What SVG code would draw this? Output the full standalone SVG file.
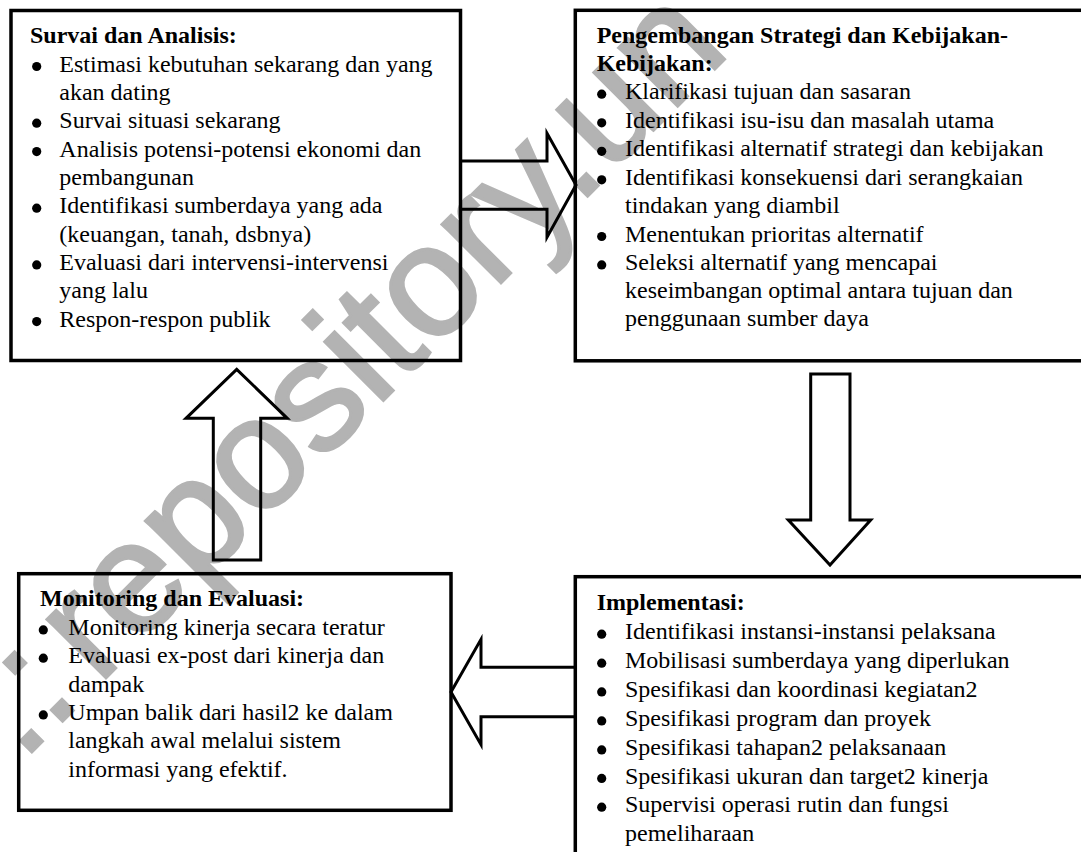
<svg xmlns="http://www.w3.org/2000/svg" width="1081" height="852" viewBox="0 0 1081 852">
<style>
.box{fill:none;stroke:#000;stroke-width:3.5}
.t{font-family:"Liberation Serif","Times New Roman",serif;font-size:24px;fill:#000}
.h{font-weight:bold}
.b{fill:#000}
.arr{fill:none;stroke:#000;stroke-width:3;stroke-linejoin:miter}
.wm{font-family:"Liberation Sans",Arial,sans-serif;font-size:157px;fill:#b3b3b3;stroke:#b3b3b3;stroke-width:3;stroke-linejoin:miter}
</style>
<rect x="0" y="0" width="1081" height="852" fill="#fff"/>
<g id="watermark">
<text class="wm" transform="translate(21.7,762) rotate(-45)">::<tspan dx="21">repository.un</tspan></text>
</g>
<g id="survai">
<rect class="box" x="11" y="10.5" width="449.5" height="350"/>
<text class="t h" x="30" y="43.3">Survai dan Analisis:</text>
<circle class="b" cx="36.7" cy="66.5" r="4.6"/>
<text class="t" x="59.3" y="71.6">Estimasi kebutuhan sekarang dan yang</text>
<text class="t" x="59.3" y="100">akan dating</text>
<circle class="b" cx="36.7" cy="123.2" r="4.6"/>
<text class="t" x="59.3" y="128.3">Survai situasi sekarang</text>
<circle class="b" cx="36.7" cy="151.6" r="4.6"/>
<text class="t" x="59.3" y="156.7">Analisis potensi-potensi ekonomi dan</text>
<text class="t" x="59.3" y="185">pembangunan</text>
<circle class="b" cx="36.7" cy="208.2" r="4.6"/>
<text class="t" x="59.3" y="213.3">Identifikasi sumberdaya yang ada</text>
<text class="t" x="59.3" y="241.7">(keuangan, tanah, dsbnya)</text>
<circle class="b" cx="36.7" cy="264.9" r="4.6"/>
<text class="t" x="59.3" y="270">Evaluasi dari intervensi-intervensi</text>
<text class="t" x="59.3" y="298.3">yang lalu</text>
<circle class="b" cx="36.7" cy="321.6" r="4.6"/>
<text class="t" x="59.3" y="326.7">Respon-respon publik</text>
</g>
<g id="pengembangan">
<rect class="box" x="575.3" y="10.3" width="520" height="350.5"/>
<text class="t h" x="596.7" y="43.3">Pengembangan Strategi dan Kebijakan-</text>
<text class="t h" x="596.7" y="70.5">Kebijakan:</text>
<circle class="b" cx="601.7" cy="94.2" r="4.6"/>
<text class="t" x="625" y="99.3">Klarifikasi tujuan dan sasaran</text>
<circle class="b" cx="601.7" cy="122.8" r="4.6"/>
<text class="t" x="625" y="127.9">Identifikasi isu-isu dan masalah utama</text>
<circle class="b" cx="601.7" cy="151.3" r="4.6"/>
<text class="t" x="625" y="156.4">Identifikasi alternatif strategi dan kebijakan</text>
<circle class="b" cx="601.7" cy="179.8" r="4.6"/>
<text class="t" x="625" y="184.9">Identifikasi konsekuensi dari serangkaian</text>
<text class="t" x="625" y="213.3">tindakan yang diambil</text>
<circle class="b" cx="601.7" cy="236.5" r="4.6"/>
<text class="t" x="625" y="241.6">Menentukan prioritas alternatif</text>
<circle class="b" cx="601.7" cy="264.9" r="4.6"/>
<text class="t" x="625" y="270">Seleksi alternatif yang mencapai</text>
<text class="t" x="625" y="298">keseimbangan optimal antara tujuan dan</text>
<text class="t" x="625" y="326">penggunaan sumber daya</text>
</g>
<g id="monitoring">
<rect class="box" x="18.7" y="573.7" width="432.3" height="236.6"/>
<text class="t h" x="40" y="606">Monitoring dan Evaluasi:</text>
<circle class="b" cx="43.3" cy="629.9" r="4.6"/>
<text class="t" x="68.3" y="635">Monitoring kinerja secara teratur</text>
<circle class="b" cx="43.3" cy="658.2" r="4.6"/>
<text class="t" x="68.3" y="663.3">Evaluasi ex-post dari kinerja dan</text>
<text class="t" x="68.3" y="691.7">dampak</text>
<circle class="b" cx="43.3" cy="714.9" r="4.6"/>
<text class="t" x="68.3" y="720">Umpan balik dari hasil2 ke dalam</text>
<text class="t" x="68.3" y="748.3">langkah awal melalui sistem</text>
<text class="t" x="68.3" y="776.7">informasi yang efektif.</text>
</g>
<g id="implementasi">
<rect class="box" x="575.3" y="576.7" width="520" height="300"/>
<text class="t h" x="596.7" y="610">Implementasi:</text>
<circle class="b" cx="601.7" cy="634.2" r="4.6"/>
<text class="t" x="625" y="639.3">Identifikasi instansi-instansi pelaksana</text>
<circle class="b" cx="601.7" cy="663.2" r="4.6"/>
<text class="t" x="625" y="668.3">Mobilisasi sumberdaya yang diperlukan</text>
<circle class="b" cx="601.7" cy="691.9" r="4.6"/>
<text class="t" x="625" y="697">Spesifikasi dan koordinasi kegiatan2</text>
<circle class="b" cx="601.7" cy="720.9" r="4.6"/>
<text class="t" x="625" y="726">Spesifikasi program dan proyek</text>
<circle class="b" cx="601.7" cy="749.9" r="4.6"/>
<text class="t" x="625" y="755">Spesifikasi tahapan2 pelaksanaan</text>
<circle class="b" cx="601.7" cy="778.4" r="4.6"/>
<text class="t" x="625" y="783.5">Spesifikasi ukuran dan target2 kinerja</text>
<circle class="b" cx="601.7" cy="807.2" r="4.6"/>
<text class="t" x="625" y="812.3">Supervisi operasi rutin dan fungsi</text>
<text class="t" x="625" y="841">pemeliharaan</text>
</g>
<g id="connectors">
<path class="arr" d="M460.5,161 H547 V133.3 L576,185 L547,237.3 V209.3 H460.5"/>
<path class="arr" d="M810.7,374 V520 H788.3 L830,565 L870.7,520 H850 V374 Z"/>
<path class="arr" d="M575.3,667.3 H481 V639.3 L451,692 L481,744.7 V716.7 H575.3"/>
<path class="arr" d="M213.3,560 V418.3 H186 L236.7,369.3 L287.3,418.3 H260.7 V560 Z"/>
</g>
</svg>
